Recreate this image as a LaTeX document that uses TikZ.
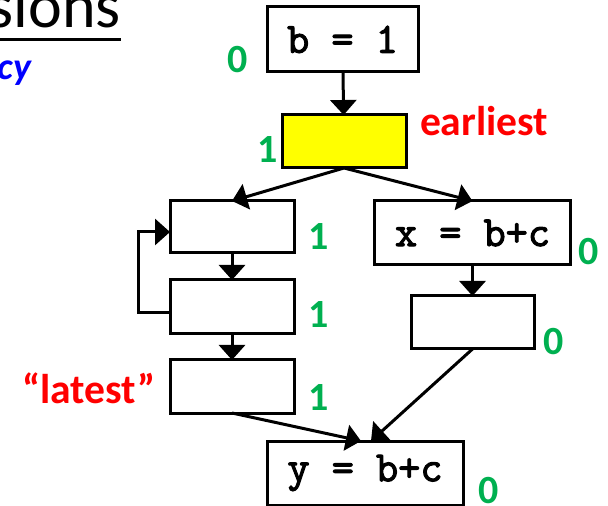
\documentclass[tikz,border=0pt]{standalone}
\usepackage{fontspec}
\setmainfont{Carlito}
\newfontfamily\codefont[FakeBold=2.5]{Latin Modern Mono}
\usetikzlibrary{arrows.meta,positioning}
\definecolor{cntgreen}{RGB}{0,176,80}
\definecolor{markred}{RGB}{255,0,0}
\definecolor{titleblue}{RGB}{0,0,255}
\definecolor{hilite}{RGB}{255,255,0}

\begin{document}
\begin{tikzpicture}[x=0.5pt,y=-0.5pt,
  every node/.style={inner sep=0pt,outer sep=0pt},
  blk/.style={draw=black,fill=white,line width=1.5pt,minimum width=62pt,minimum height=26.5pt,font=\codefont\fontsize{21.5}{24}\selectfont},
  wide/.style={blk,minimum width=98pt,minimum height=32pt},
  cnt/.style={text=cntgreen,font=\bfseries\fontsize{20}{24}\selectfont,anchor=base west},
  note/.style={text=markred,font=\bfseries\fontsize{20.8}{24}\selectfont},
  ar/.style={-{Triangle[length=7.5pt,width=13pt]},line width=1.5pt}]
\useasboundingbox (0,0) rectangle (608,506);
% title remnants
\node[anchor=base east,font=\fontsize{32}{36}\selectfont] (ttl) at (121,28) {sions};
\draw[line width=1.5pt] (0,39.5) -- (121,39.5);
\node[anchor=base east,text=titleblue,font=\bfseries\itshape\fontsize{19}{22}\selectfont] (sub) at (31,80) {cy};
% blocks
\node[blk,minimum width=75.5pt,minimum height=32.5pt] (bone) at (342.5,39.5) {b = 1};
\node[blk,fill=hilite] (early) at (344,141.5) {};
\node[blk,minimum height=26pt] (loopa) at (232,227) {};
\node[blk,minimum height=27pt] (loopb) at (232,307) {};
\node[blk] (late) at (232,386.5) {};
\node[wide] (xdef) at (472.5,233) {x = b+c};
\node[blk,minimum width=61.5pt] (xout) at (472.5,322.5) {};
\node[wide] (ydef) at (365,473) {y = b+c};
% counts
\node[cnt] (c1) at (227,73) {0};
\node[cnt] (c2) at (257,163) {1};
\node[cnt] (c3) at (308,250) {1};
\node[cnt] (c4) at (308,328) {1};
\node[cnt] (c5) at (308,410) {1};
\node[cnt] (c6) at (578,265) {0};
\node[cnt] (c7) at (543,355) {0};
\node[cnt] (c8) at (478,503) {0};
\node[note,anchor=base west] (ear) at (420,136) {earliest};
\node[note,anchor=base west] (lat) at (22,403) {“latest”};
% edges
\draw[ar] (bone) -- (early);
\draw[ar] (early.south) -- (loopa.north);
\draw[ar] (early.south) -- (xdef.north);
\draw[ar] (xdef) -- (xout);
\draw[ar] (loopa) -- (loopb);
\draw[ar] (loopb) -- (late);
\draw[ar] ([yshift=-3pt]loopb.west) -- ++(-32,0) |- ([yshift=-2.5pt]loopa.west);
\draw[ar] (late.south) -- ([xshift=-2pt]ydef.north);
\draw[ar] (xout.south) -- ([xshift=3pt]ydef.north);
\end{tikzpicture}
\end{document}
